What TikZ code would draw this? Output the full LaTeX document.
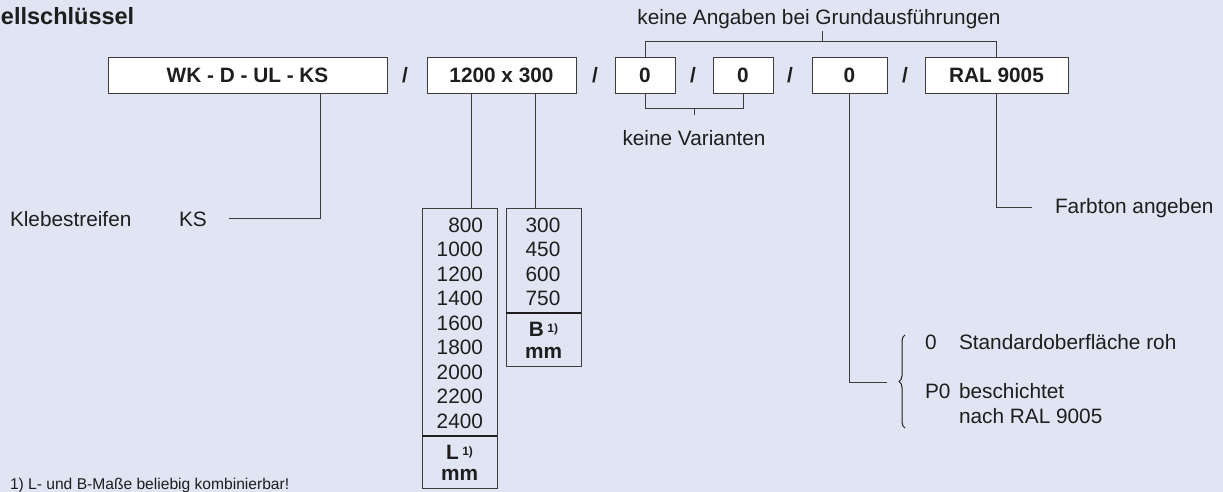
\documentclass[tikz,border=0pt]{standalone}
\usepackage{fontspec}
\setmainfont{Liberation Sans}
\usetikzlibrary{decorations.pathreplacing}
\definecolor{bg}{RGB}{225,228,242}
\definecolor{ln}{RGB}{60,60,60}
\definecolor{tx}{RGB}{30,30,30}
\begin{document}
\begin{tikzpicture}[x=1pt,y=-1pt,
  every node/.style={inner sep=0pt,outer sep=0pt,text=tx},
  codebox/.style={draw=ln,line width=0.9pt,fill=white,font=\fontsize{20.8}{24}\selectfont\bfseries},
  tab/.style={draw=ln,line width=0.9pt},
  conn/.style={draw=ln,line width=0.9pt},
  sep/.style={draw=tx,line width=2pt},
  txt/.style={font=\fontsize{20.8}{24}\selectfont},
  btxt/.style={font=\fontsize{20.8}{24}\selectfont\bfseries},
  slash/.style={font=\fontsize{20.8}{24}\selectfont\bfseries}
]
\fill[bg] (0,0) rectangle (1223,492);
\useasboundingbox (0,0) rectangle (1223,492);

% title
\node[anchor=base west,font=\fontsize{23.5}{26}\selectfont\bfseries] (title) at (1,25) {ellschlüssel};

% code boxes
\node[codebox,minimum width=279pt,minimum height=36pt] (box1) at (247.5,75) {WK - D - UL - KS};
\node[codebox,minimum width=149pt,minimum height=36pt] (box2) at (501.5,75) {1200 x 300};
\node[codebox,minimum width=60pt,minimum height=36pt] (box3) at (645,75) {0};
\node[codebox,minimum width=60pt,minimum height=36pt] (box4) at (743,75) {0};
\node[codebox,minimum width=75pt,minimum height=36pt] (box5) at (849.5,75) {0};
\node[codebox,minimum width=143pt,minimum height=36pt] (box6) at (996.5,75) {RAL 9005};

\node[slash] (s1) at (405,75) {/};
\node[slash] (s2) at (595,75) {/};
\node[slash] (s3) at (693,75) {/};
\node[slash] (s4) at (790,75) {/};
\node[slash] (s5) at (905,75) {/};

% top bracket
\node[txt,anchor=base] (topl) at (819,25) {keine Angaben bei Grundausführungen};
\coordinate (tt) at (822,31);
\draw[conn] (box3.north) -- (box3.north |- 0,41) -- (box6.north |- 0,41) -- (box6.north);
\draw[conn] (tt) -- (tt |- 0,41);

% bottom bracket
\node[txt,anchor=base] (varl) at (694,146) {keine Varianten};
\coordinate (vt) at (694,115);
\draw[conn] (box3.south) -- (box3.south |- 0,108) -- (box4.south |- 0,108) -- (box4.south);
\draw[conn] (vt) -- (vt |- 0,108);

% box1 -> Klebestreifen
\node[txt,anchor=base west] (kleb) at (10,226) {Klebestreifen};
\node[txt,anchor=base west] (ks) at (179,226) {KS};
\coordinate (ksend) at (229,218);
\draw[conn] ([xshift=72.5pt]box1.south) -- ([xshift=72.5pt]box1.south |- ksend) -- (ksend);

% L and B tables
\node[tab,minimum width=75pt,minimum height=280pt] (Ltab) at (459.5,348) {};
\node[tab,minimum width=75pt,minimum height=158pt] (Btab) at (543.5,287) {};
\draw[sep] (Ltab.west |- 0,436) -- (Ltab.east |- 0,436);
\draw[sep] (Btab.west |- 0,313) -- (Btab.east |- 0,313);
\draw[conn] ([xshift=-30.5pt]box2.south) -- ([xshift=-30.5pt]box2.south |- Ltab.north);
\draw[conn] ([xshift=33.5pt]box2.south) -- ([xshift=33.5pt]box2.south |- Btab.north);

\foreach \v [count=\i from 0] in {800,1000,1200,1400,1600,1800,2000,2200,2400}
  \node[txt,anchor=base east] (L\i) at (483,232+24.5*\i) {\v};
\foreach \v [count=\i from 0] in {300,450,600,750}
  \node[txt,anchor=base] (B\i) at (543,232+24.5*\i) {\v};

\node[btxt,anchor=base] (Lh) at (459.5,459) {L\,\raisebox{4pt}{\fontsize{12}{12}\selectfont 1)}};
\node[btxt,anchor=base] (Lmm) at (459.5,480) {mm};
\node[btxt,anchor=base] (Bh) at (543.5,336) {B\,\raisebox{4pt}{\fontsize{12}{12}\selectfont 1)}};
\node[btxt,anchor=base] (Bmm) at (543.5,358) {mm};

% box5 -> surface options
\coordinate (b5end) at (887,382);
\draw[conn] (box5.south) -- (box5.south |- b5end) -- (b5end);
\coordinate (brb) at (905,428);
\coordinate (brt) at (905,335);
\draw[draw=tx,line width=1pt,decorate,decoration={brace,amplitude=6pt}] (brb) -- (brt);
\node[txt,anchor=base west] (o0) at (925,349) {0};
\node[txt,anchor=base west] (o0t) at (959,349) {Standardoberfläche roh};
\node[txt,anchor=base west] (op) at (925,398) {P0};
\node[txt,anchor=base west] (opt1) at (959,398) {beschichtet};
\node[txt,anchor=base west] (opt2) at (959,423) {nach RAL 9005};

% box6 -> Farbton
\node[txt,anchor=base west] (farb) at (1055,213) {Farbton angeben};
\coordinate (b6end) at (1032,207);
\draw[conn] (box6.south) -- (box6.south |- b6end) -- (b6end);

% footnote
\node[anchor=base west,font=\fontsize{15.6}{18}\selectfont] (fn) at (10,489) {1) L- und B-Maße beliebig kombinierbar!};
\end{tikzpicture}
\end{document}
